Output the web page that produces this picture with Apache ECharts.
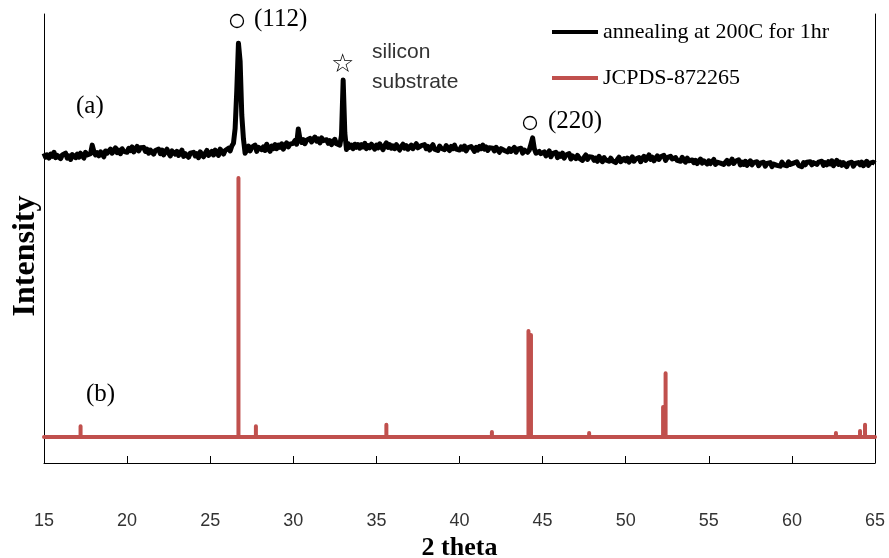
<!DOCTYPE html>
<html lang="en">
<head>
    <meta charset="UTF-8">
    <title>XRD</title>
    <script src="https://cdn.jsdelivr.net/npm/echarts@6/dist/echarts.min.js"></script>
    <style>
        html, body { margin: 0; padding: 0; background: #fff; }
        #main { width: 889px; height: 558px; }
    </style>
</head>
<body>
<div id="main"></div>
<script>
    // sample (a): measured pattern, 15.0 .. 65.0 step 0.1 (one row per degree)
    const scanStart = 15;
    const scanStep = 0.1;
    const annealed = [
        690, 681, 686, 679, 688, 683, 692, 680, 685, 689,
        678, 686, 682, 690, 679, 684, 676, 687, 683, 680,
        688, 681, 690, 684, 679, 692, 686, 683, 689, 708,
        694, 686, 691, 684, 693, 688, 682, 695, 690, 687,
        699, 690, 696, 702, 691, 697, 689, 700, 694, 698,
        692, 701, 696, 704, 693, 699, 705, 695, 702, 698,
        703, 694, 699, 690, 697, 701, 688, 696, 692, 699,
        689, 697, 686, 694, 699, 690, 684, 695, 691, 688,
        694, 685, 691, 697, 683, 689, 693, 681, 690, 686,
        692, 684, 689, 680, 693, 687, 682, 690, 696, 685,
        688, 694, 686, 697, 691, 685, 699, 693, 688, 696,
        697, 701, 695, 706, 712, 745, 830, 935, 895, 775,
        722, 690, 697, 706, 695, 703, 699, 708, 694, 703,
        707, 698, 704, 696, 710, 701, 694, 706, 700, 709,
        700, 708, 703, 711, 699, 707, 713, 704, 710, 706,
        712, 718, 710, 744, 722, 714, 720, 711, 719, 716,
        723, 715, 721, 726, 717, 722, 713, 724, 718, 721,
        720, 712, 718, 709, 716, 721, 711, 715, 708, 730,
        853, 735, 698, 711, 703, 708, 700, 710, 703, 709,
        701, 709, 704, 712, 700, 707, 702, 710, 705, 699,
        708, 702, 711, 704, 698, 707, 713, 703, 709, 701,
        706, 700, 709, 703, 697, 705, 710, 701, 707, 699,
        703, 708, 700, 706, 711, 702, 698, 707, 703, 709,
        700, 705, 697, 704, 709, 699, 703, 696, 706, 701,
        704, 698, 707, 701, 696, 705, 700, 708, 699, 703,
        697, 704, 699, 706, 695, 702, 698, 705, 700, 694,
        703, 697, 705, 700, 708, 699, 704, 696, 702, 706,
        701, 695, 703, 698, 692, 700, 704, 696, 699, 693,
        700, 694, 698, 703, 692, 699, 695, 701, 690, 697,
        699, 692, 697, 710, 724, 700, 690, 686, 694, 689,
        686, 693, 684, 690, 695, 682, 689, 685, 692, 680,
        688, 683, 690, 679, 686, 682, 689, 677, 684, 687,
        678, 685, 679, 683, 674, 681, 686, 676, 682, 679,
        681, 674, 679, 672, 683, 676, 671, 680, 675, 678,
        672, 679, 673, 677, 669, 676, 681, 671, 675, 678,
        673, 679, 670, 676, 682, 672, 677, 674, 680, 671,
        678, 683, 674, 680, 686, 676, 681, 673, 679, 684,
        676, 682, 678, 685, 674, 680, 676, 683, 677, 673,
        680, 674, 678, 672, 681, 675, 670, 679, 673, 677,
        675, 669, 674, 667, 672, 677, 668, 673, 670, 666,
        673, 667, 671, 676, 665, 670, 674, 668, 672, 665,
        668, 674, 666, 671, 677, 667, 672, 669, 675, 664,
        670, 665, 672, 663, 668, 673, 664, 669, 666, 671,
        662, 668, 664, 670, 661, 667, 663, 669, 660, 666,
        669, 663, 667, 661, 670, 664, 668, 662, 671, 665,
        662, 668, 665, 671, 663, 667, 660, 669, 664, 670,
        666, 671, 664, 669, 673, 665, 670, 667, 672, 663,
        669, 664, 671, 666, 673, 662, 668, 674, 665, 670,
        663, 669, 665, 660, 668, 664, 670, 661, 667, 663,
        669, 664, 670, 662, 667, 672, 663, 668, 665, 670,
        667
    ];

    // reference (b): JCPDS-872265 stick pattern
    const refBase = 58;
    const refPos = [17.2, 26.7, 27.75, 30.9, 35.6, 41.95, 44.15, 44.3, 47.8, 52.25, 52.4, 62.65, 64.1, 64.4];
    const refInt = [82, 635, 82, 62, 85, 69, 294, 285, 67, 125, 200, 67, 71, 85];

    const xTicks = [15, 20, 25, 30, 35, 40, 45, 50, 55, 60, 65];

    const annealedData = annealed.map((v, i) => [+(scanStart + i * scanStep).toFixed(2), v]);

    const refData = [[15, refBase]];
    refPos.forEach((p, i) => {
        refData.push([p, refBase], [p, refInt[i]], [p, refBase]);
    });
    refData.push([65, refBase]);

    const serif = '"Liberation Serif", "Times New Roman", serif';
    const chart = echarts.init(document.getElementById('main'));

    chart.setOption({
        animation: false,
        backgroundColor: '#fff',
        grid: { left: 44, right: 14, top: 14, bottom: 95, outerBoundsMode: 'none' },
        legend: {
            orient: 'vertical',
            left: 547,
            top: 16,
            itemWidth: 46,
            itemHeight: 4,
            itemGap: 24,
            icon: 'rect',
            textStyle: { fontFamily: serif, fontSize: 22, color: '#000' },
            data: ['annealing at 200C for 1hr', 'JCPDS-872265']
        },
        xAxis: {
            type: 'value',
            min: 15,
            max: 65,
            interval: 5,
            name: '2 theta',
            nameLocation: 'middle',
            nameGap: 69,
            nameTextStyle: { fontFamily: serif, fontSize: 26, fontWeight: 'bold', color: '#000' },
            axisLine: { lineStyle: { color: '#000', width: 1 } },
            axisTick: { inside: true, length: 7, lineStyle: { color: '#000' } },
            axisLabel: {
                margin: 49,
                fontFamily: '"Liberation Sans Narrow", "Liberation Sans", sans-serif',
                fontSize: 18,
                color: '#333',
                formatter: v => xTicks.includes(v) ? String(v) : ''
            },
            splitLine: { show: false }
        },
        yAxis: [{
            type: 'value',
            min: 0,
            max: 1000,
            axisLine: { show: true, lineStyle: { color: '#000', width: 1 } },
            axisTick: { show: false },
            axisLabel: { show: false },
            splitLine: { show: false }
        }, {
            type: 'value',
            position: 'right',
            min: 0,
            max: 1000,
            axisLine: { show: true, lineStyle: { color: '#000', width: 1 } },
            axisTick: { show: false },
            axisLabel: { show: false },
            splitLine: { show: false }
        }],
        series: [{
            name: 'annealing at 200C for 1hr',
            type: 'line',
            data: annealedData,
            showSymbol: false,
            color: '#000',
            lineStyle: { color: '#000', width: 5, join: 'round' },
            z: 3
        }, {
            name: 'JCPDS-872265',
            type: 'line',
            data: refData,
            showSymbol: false,
            color: '#c0504d',
            lineStyle: { color: '#c0504d', width: 4, cap: 'round', join: 'round' },
            z: 2
        }],
        graphic: [
            {
                type: 'text', x: 26, y: 256, rotation: Math.PI / 2,
                style: { text: 'Intensity', font: 'bold 32px ' + serif, fill: '#000', align: 'center', verticalAlign: 'middle' }
            },
            { type: 'circle', shape: { cx: 237, cy: 21, r: 6.5 }, style: { fill: 'none', stroke: '#000', lineWidth: 1.3 } },
            { type: 'text', left: 254, top: 7, style: { text: '(112)', font: '25px ' + serif, fill: '#000' } },
            { type: 'text', left: 331, top: 52, style: { text: '☆', font: '26px "DejaVu Sans", sans-serif', fill: '#000' } },
            { type: 'text', left: 372, top: 42, style: { text: 'silicon', font: '21px "Liberation Sans", sans-serif', fill: '#333' } },
            { type: 'text', left: 372, top: 72, style: { text: 'substrate', font: '21px "Liberation Sans", sans-serif', fill: '#333' } },
            { type: 'circle', shape: { cx: 530, cy: 123, r: 6.5 }, style: { fill: 'none', stroke: '#000', lineWidth: 1.3 } },
            { type: 'text', left: 548, top: 109, style: { text: '(220)', font: '25px ' + serif, fill: '#000' } },
            { type: 'text', left: 76, top: 94, style: { text: '(a)', font: '25px ' + serif, fill: '#000' } },
            { type: 'text', left: 86, top: 382, style: { text: '(b)', font: '25px ' + serif, fill: '#000' } }
        ]
    });
</script>
</body>
</html>
